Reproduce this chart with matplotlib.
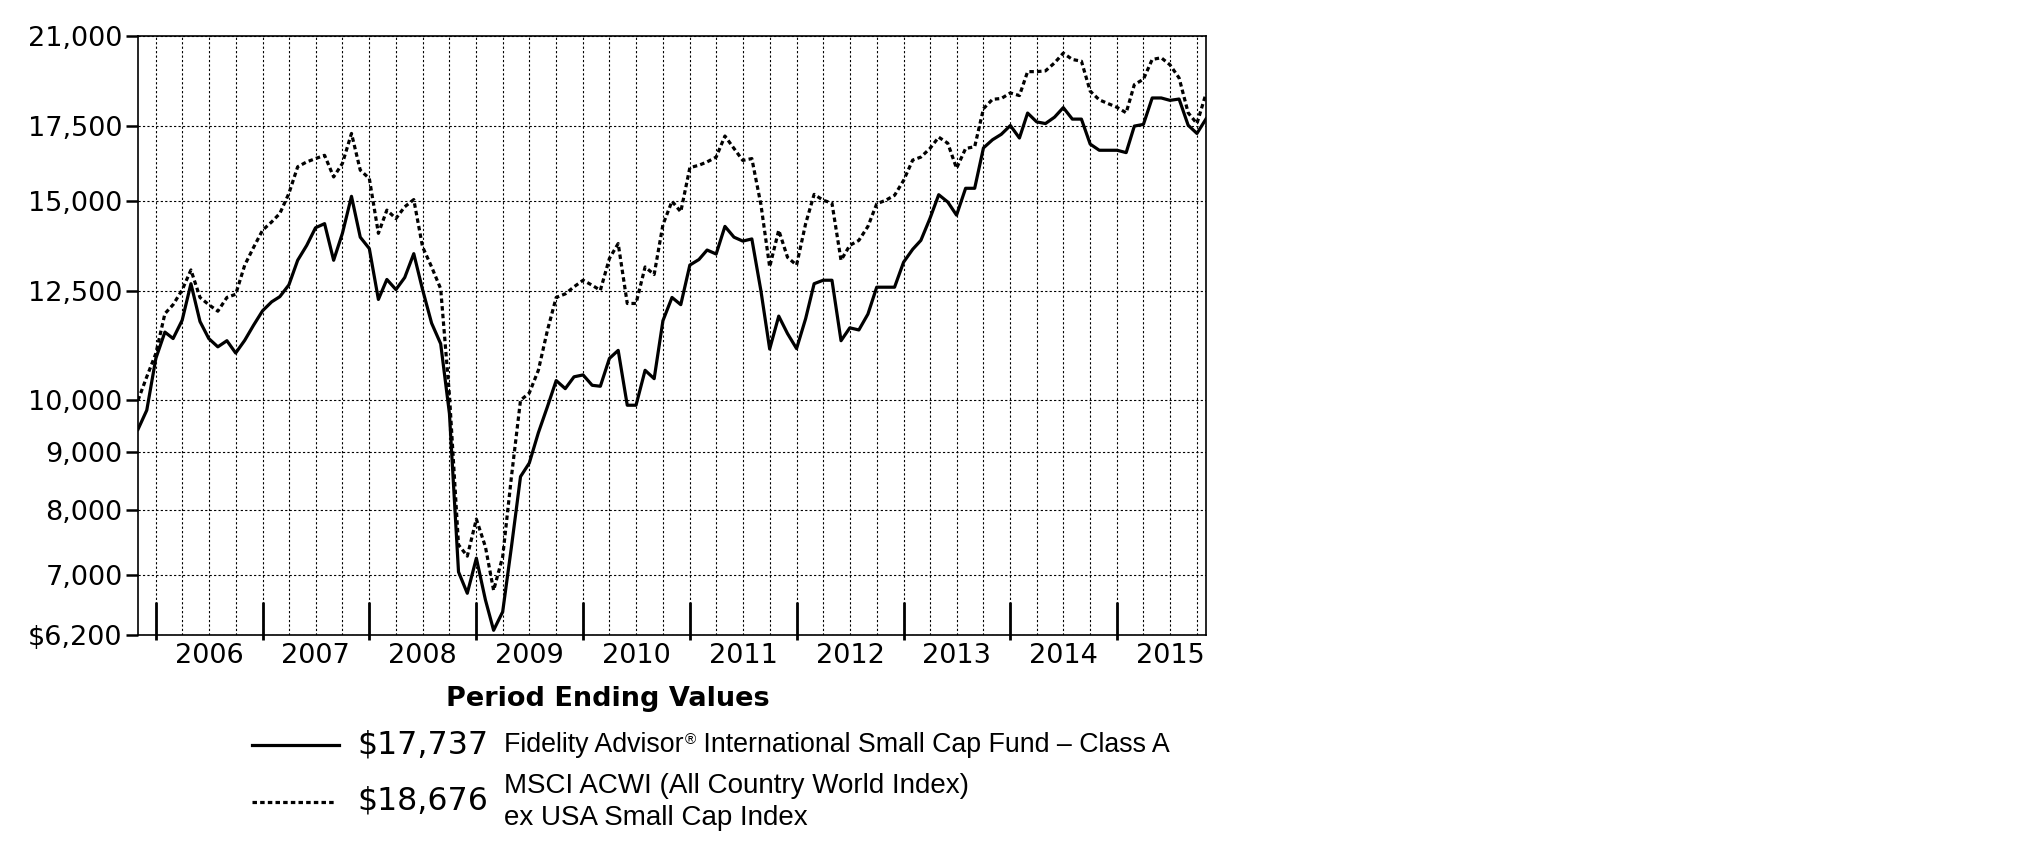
import matplotlib
matplotlib.use("Agg")
import matplotlib.pyplot as plt
import matplotlib.ticker as mticker
from matplotlib.lines import Line2D
import pandas as pd

# month-end values, Oct 2005 .. Oct 2015
months = pd.date_range("2005-10-31", "2015-10-31", freq="ME")

fund = [9425, 9800, 10890, 11490, 11340, 11770, 12680, 11740, 11340, 11150,
        11290, 11010, 11300, 11650, 12000, 12220, 12350, 12650, 13300, 13710,
        14210, 14330, 13300, 14050, 15150, 13940, 13620, 12280, 12790, 12530,
        12840, 13480, 12530, 11700, 11220, 9730, 7050, 6750, 7250, 6660,
        6260, 6500, 7420, 8560, 8800, 9360, 9870, 10410, 10240, 10490,
        10530, 10310, 10290, 10890, 11070, 9900, 9900, 10630, 10450, 11760,
        12330, 12150, 13170, 13320, 13580, 13470, 14250, 13940, 13830, 13890,
        12500, 11100, 11870, 11455, 11110, 11810, 12680, 12770, 12770, 11290,
        11590, 11540, 11920, 12590, 12590, 12590, 13250, 13600, 13850, 14480,
        15200, 14975, 14580, 15400, 15400, 16720, 17000, 17190, 17500, 17060,
        17950, 17630, 17570, 17800, 18150, 17730, 17730, 16850, 16640, 16640,
        16640, 16560, 17480, 17540, 18510, 18510, 18420, 18470, 17510, 17220,
        17737]

index = [10000, 10490, 11000, 11930, 12150, 12520, 13040, 12330, 12150, 11990,
         12330, 12410, 13170, 13650, 14140, 14380, 14630, 15240, 16090, 16250,
         16360, 16470, 15760, 16200, 17220, 15980, 15710, 14050, 14730, 14480,
         14830, 15050, 13670, 13120, 12550, 10100, 7450, 7280, 7850, 7420,
         6790, 7270, 8560, 10000, 10150, 10630, 11530, 12330, 12420, 12600,
         12770, 12640, 12510, 13350, 13760, 12180, 12180, 13120, 12920, 14300,
         15000, 14680, 16060, 16140, 16250, 16410, 17130, 16700, 16300, 16360,
         14900, 13120, 14140, 13380, 13170, 14330, 15210, 15030, 14940, 13300,
         13710, 13850, 14250, 14920, 15030, 15180, 15650, 16310, 16410, 16700,
         17090, 16880, 16040, 16700, 16760, 18110, 18460, 18490, 18700, 18600,
         19530, 19530, 19560, 19880, 20280, 20020, 19950, 18770, 18440, 18300,
         18160, 17960, 19020, 19230, 20020, 20090, 19800, 19280, 17960, 17570,
         18676]

y_ticks = [6200, 7000, 8000, 9000, 10000, 12500, 15000, 17500, 21000]
y_labels = ["\\$6,200", "7,000", "8,000", "9,000", "10,000", "12,500",
            "15,000", "17,500", "21,000"]

quarters = pd.date_range("2005-12-31", "2015-09-30", freq="QE")
year_marks = pd.date_range("2005-12-31", "2014-12-31", freq="YE")
year_label_pos = pd.to_datetime([f"{y}-07-01" for y in range(2006, 2016)])
year_labels = [str(y) for y in range(2006, 2016)]

fund_end = "\\$17,737"
index_end = "\\$18,676"
fund_name = "Fidelity Advisor"
fund_name_rest = " International Small Cap Fund \u2013 Class A"
index_name = "MSCI ACWI (All Country World Index)\nex USA Small Cap Index"

W, H = 2026, 852
fig = plt.figure(figsize=(W / 100, H / 100), dpi=100)
ax = fig.add_axes([138 / W, 1 - 635 / H, (1206 - 138) / W, (635 - 36) / H])

ax.plot(months, index, color="black", lw=2.3, linestyle=(0, (1.4, 1.0)))
ax.plot(months, fund, color="black", lw=2.3)

ax.set_yscale("log")
ax.set_ylim(6200, 21000)
ax.set_xlim(months[0], months[-1])

ax.yaxis.set_major_locator(mticker.FixedLocator(y_ticks))
ax.yaxis.set_major_formatter(mticker.FixedFormatter(y_labels))
ax.yaxis.set_minor_locator(mticker.NullLocator())
ax.yaxis.set_minor_formatter(mticker.NullFormatter())
ax.tick_params(axis="y", direction="out", length=9, width=1.8,
               labelsize=19.5, pad=2)

ax.xaxis.set_major_locator(mticker.FixedLocator(
    [matplotlib.dates.date2num(d) for d in quarters]))
ax.xaxis.set_major_formatter(mticker.NullFormatter())
ax.xaxis.set_minor_locator(mticker.FixedLocator(
    [matplotlib.dates.date2num(d) for d in year_label_pos]))
ax.xaxis.set_minor_formatter(mticker.FixedFormatter(year_labels))
ax.tick_params(axis="x", which="both", length=0, labelsize=19.5, pad=6)

ax.grid(True, axis="both", which="major", color="black", lw=0.8,
        linestyle=(0, (2, 2)))
ax.set_axisbelow(True)
for s in ax.spines.values():
    s.set_linewidth(1.2)

ax.vlines(year_marks, -0.008, 33 / 599, transform=ax.get_xaxis_transform(),
          color="black", lw=2, clip_on=False)


def fx(px):
    return px / W


def fy(py):
    return 1 - py / H


fig.text(fx(608), fy(699), "Period Ending Values", ha="center", va="center",
         fontsize=19.5, fontweight="bold", family="DejaVu Sans")

fig.add_artist(Line2D([fx(252), fx(339)], [fy(745), fy(745)], color="black",
                      lw=2.3))
fig.add_artist(Line2D([fx(252), fx(334)], [fy(802), fy(802)], color="black",
                      lw=2.3, linestyle=(0, (1.4, 1.0))))

fig.text(fx(357), fy(745), fund_end, ha="left", va="center", fontsize=22.8,
         family="DejaVu Sans")
fig.text(fx(357), fy(801), index_end, ha="left", va="center", fontsize=22.8,
         family="DejaVu Sans")

t1 = fig.text(fx(504), fy(745), fund_name, ha="left", va="center",
              fontsize=19.3, family="Liberation Sans")
t2 = fig.text(0, 0, "\u00ae", fontsize=11, family="Liberation Sans",
              ha="left", va="top")
t2.set_transform(matplotlib.transforms.IdentityTransform())
fig.canvas.draw()
bb = t1.get_window_extent()
t2.set_position((bb.x1 + 1, bb.y1 - 1))
fig.canvas.draw()
bb2 = t2.get_window_extent()
fig.text(bb2.x1 / W, fy(745), fund_name_rest, ha="left", va="center",
         fontsize=19.3, family="Liberation Sans")

fig.text(fx(504), fy(802), index_name, ha="left", va="center", fontsize=20,
         family="Liberation Sans", linespacing=1.3)

fig.savefig("out.png", dpi=100)
